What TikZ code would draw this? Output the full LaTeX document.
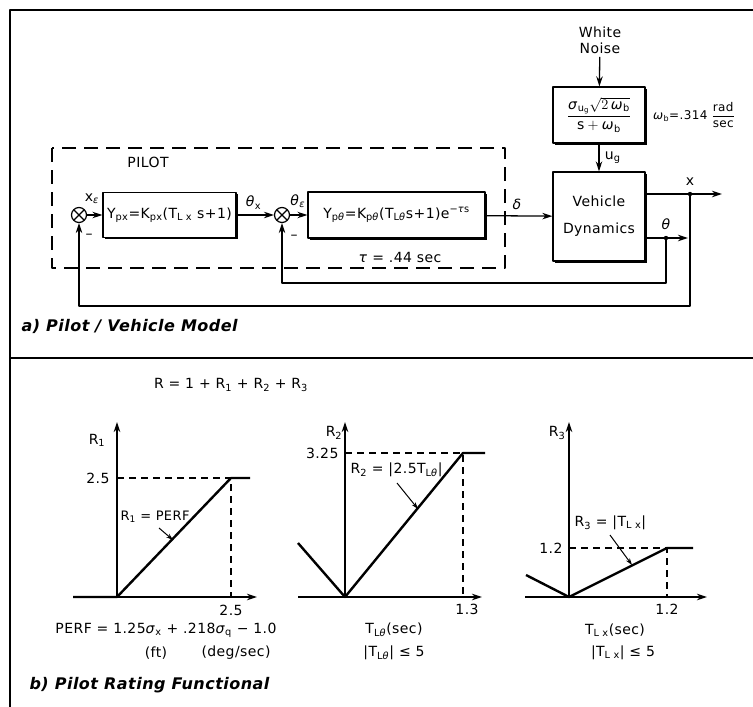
\documentclass[tikz,border=0pt]{standalone}
\usepackage{amsmath}
\usepackage{fontspec}
\setmainfont[LetterSpace=3]{DejaVu Sans}
\setsansfont[LetterSpace=3]{DejaVu Sans}
\usetikzlibrary{arrows.meta,shadows}
\newcommand{\sbs}[1]{$_{\text{#1}}$}
\newcommand{\sps}[1]{$^{\text{#1}}$}
\newcommand{\gk}[1]{\textit{#1}}

\begin{document}
\begin{tikzpicture}[x=1pt, y=-1pt, line join=round, >={Stealth[length=10pt,width=6.5pt]},
        font=\fontsize{14}{16}\selectfont,
        frameline/.style={line width=1.8pt},
        block/.style={draw, fill=white, line width=1.3pt, inner sep=2pt,
            drop shadow={shadow xshift=1.5pt, shadow yshift=-1.5pt, opacity=1, fill=black}},
        sumj/.style={draw, circle, line width=1.2pt, minimum size=15pt, inner sep=0pt,
            path picture={\draw[line width=1.2pt] (path picture bounding box.north west) -- (path picture bounding box.south east)
                (path picture bounding box.north east) -- (path picture bounding box.south west);}},
        sig/.style={line width=1.3pt},
        axisline/.style={line width=1.2pt, ->},
        plotline/.style={line width=2.4pt},
        guideline/.style={line width=1.1pt, dash pattern=on 7pt off 5pt},
        pointer/.style={line width=1pt, -{Stealth[length=7pt,width=4.5pt]}},
        caption/.style={anchor=west, font=\fontsize{16}{18}\selectfont\bfseries\itshape}]
        \useasboundingbox (0,0) rectangle (753,707);

        % frame
        \draw[frameline] (753,10) -- (10,10) -- (10,707);
        \draw[frameline] (10,358) -- (753,358);

        % pilot / vehicle model
        \draw[line width=1.4pt, dash pattern=on 14pt off 8pt] (52,148) rectangle (505,268);
        \node at (148,162) {PILOT};

        \node[sumj] (s1) at (79,215) {};
        \node[block, minimum width=133pt, minimum height=45pt] (px) at (169.5,215)
            {Y\sbs{px}=K\sbs{px}(T\sbs{L x} s+1)};
        \node[sumj] (s2) at (282,215) {};
        \node[block, minimum width=177pt, minimum height=46pt] (pth) at (396.5,215)
            {Y\sbs{p\gk{θ}}=K\sbs{p\gk{θ}}(T\sbs{L\gk{θ}}s+1)e\sps{−\gk{τ}s}};
        \node[block, minimum width=92pt, minimum height=89pt, align=center,
            font=\fontsize{14}{27}\selectfont] (veh) at (599,216.5) {Vehicle\\Dynamics};
        \node[block, minimum width=92pt, minimum height=56pt] (filt) at (599,115)
            {$\dfrac{\text{\gk{σ}}_{\text{u}_\text{g}}\sqrt{2\,\text{\gk{ω}}_\text{b}}}{\text{s}+\text{\gk{ω}}_\text{b}}$};
        \node[align=center] (wn) at (600,40) {White\\Noise};
        \node[anchor=west, font=\fontsize{12}{14}\selectfont, inner sep=1pt] at (652,115)
            {\gk{ω}\sbs{b}=.314 $\dfrac{\text{rad}}{\text{sec}}$};

        \coordinate (xj) at (690,194);
        \coordinate (xo) at (722,194);
        \coordinate (thj) at (666,238);
        \coordinate (tho) at (688,238);
        \coordinate (fb1) at (690,306);
        \coordinate (fb2) at (666,283);

        \draw[sig, ->] (wn) -- (filt);
        \draw[sig, ->] (filt) -- node[right=2pt] {u\sbs{g}} (veh);
        \draw[sig, ->] (s1) -- (px);
        \draw[sig, ->] (px) -- node[above=2pt, pos=0.45] {\gk{θ}\sbs{x}} (s2);
        \draw[sig, ->] (s2) -- (pth);
        \draw[sig, ->] (pth) -- (veh);
        \draw[sig, ->] (veh.east |- xj) -- (xo);
        \draw[sig, ->] (veh.east |- thj) -- (tho);
        \draw[sig, ->] (xj) -- (fb1) -| (s1);
        \draw[sig, ->] (thj) -- (fb2) -| (s2);
        \fill (xj) circle (2.2);
        \fill (thj) circle (2.2);

        \node at (92,199) {x\sbs{\gk{ε}}};
        \node at (298,201) {\gk{θ}\sbs{\gk{ε}}};
        \node at (89,236) {–};
        \node at (294,237) {–};
        \node at (517,204) {\gk{δ}};
        \node at (690,182) {x};
        \node at (666,224) {\gk{θ}};
        \node at (400,257) {\gk{τ} = .44 sec};
        \node[caption] at (18,326) {a) Pilot / Vehicle Model};

        % pilot rating functional
        \node at (231,385) {R = 1 + R\sbs{1} + R\sbs{2} + R\sbs{3}};

        % R1
        \draw[axisline] (73,597) -- (257,597);
        \draw[axisline] (117,597) -- (117,422);
        \draw[guideline] (117,478) -- (231,478) -- (231,597);
        \draw[plotline] (73,597) -- (117,597) -- (231,478) -- (250,478);
        \node at (97,440) {R\sbs{1}};
        \node[anchor=east] at (113,478) {2.5};
        \node at (231,610) {2.5};
        \node[font=\fontsize{13}{15}\selectfont] at (155,517) {R\sbs{1} = PERF};
        \draw[pointer] (159,528) -- (173,540);
        \node at (166,630) {PERF = 1.25\gk{σ}\sbs{x} + .218\gk{σ}\sbs{q} − 1.0};
        \node at (156,653) {(ft)};
        \node at (236,653) {(deg/sec)};

        % R2
        \draw[axisline] (298,597) -- (482,597);
        \draw[axisline] (345,597) -- (345,422);
        \draw[guideline] (345,453) -- (463,453) -- (463,597);
        \draw[plotline] (298,543) -- (345,597) -- (463,453) -- (485,453);
        \node at (334,433) {R\sbs{2}};
        \node[anchor=east] at (342,453) {3.25};
        \node at (467,609) {1.3};
        \node[anchor=west] at (347,470) {R\sbs{2} = |2.5T\sbs{L\gk{θ}}|};
        \draw[pointer] (397,483) -- (418,509);
        \node at (394,630) {T\sbs{L\gk{θ}}(sec)};
        \node at (394,653) {|T\sbs{L\gk{θ}}| ≤ 5};

        % R3
        \draw[axisline] (525,597) -- (707,597);
        \draw[axisline] (569,597) -- (569,422);
        \draw[guideline] (569,548) -- (667,548) -- (667,597);
        \draw[plotline] (526,575) -- (569,597) -- (667,548) -- (693,548);
        \node at (557,433) {R\sbs{3}};
        \node[anchor=east] at (566,548) {1.2};
        \node at (667,609) {1.2};
        \node[anchor=west] at (571,523) {R\sbs{3} = |T\sbs{L x}|};
        \draw[pointer] (610,535) -- (632,565);
        \node at (615,630) {T\sbs{L x}(sec)};
        \node at (623,653) {|T\sbs{L x}| ≤ 5};

        \node[caption] at (26,685) {b) Pilot Rating Functional};
\end{tikzpicture}
\end{document}
